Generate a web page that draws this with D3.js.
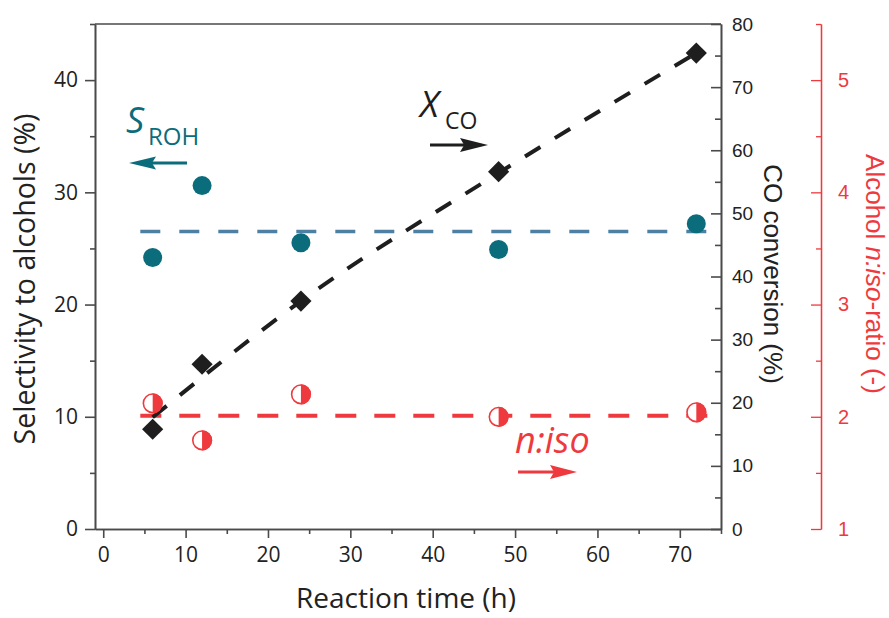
<!DOCTYPE html>
<html>
<head>
<meta charset="utf-8">
<script src="https://cdn.jsdelivr.net/npm/d3@7"></script>
<style>
  html, body { margin: 0; padding: 0; background: #fff; }
  svg { display: block; }
</style>
</head>
<body>
<svg id="chart" width="889" height="618"></svg>
<script>
// Reaction time series (h)
const time = [6, 12, 24, 48, 72];
// Selectivity to alcohols (%), left axis
const selectivity = [24.2, 30.6, 25.5, 24.9, 27.2];
// CO conversion (%), first right axis
const coConversion = [15.8, 26.1, 36.1, 56.6, 75.4];
// Alcohol n:iso ratio (-), second right axis
const nIsoRatio = [2.12, 1.79, 2.20, 2.00, 2.04];

// Guide lines
const selAverage = 26.5;
const ratioAverage = 2.01;
const guideSpan = [4.5, 73.5];
const trendTime = [6, 24, 48, 72];
const trendCO = [17.7, 36.1, 56.4, 75.4];

// Tick values
const xTicks = [0, 10, 20, 30, 40, 50, 60, 70];
const xMinor = [5, 15, 25, 35, 45, 55, 65, 75];
const selTicks = [0, 10, 20, 30, 40];
const selMinor = [5, 15, 25, 35, 45];
const coTicks = [0, 10, 20, 30, 40, 50, 60, 70, 80];
const coMinor = [5, 15, 25, 35, 45, 55, 65, 75];
const ratioTicks = [1, 2, 3, 4, 5];
const ratioMinor = [1.5, 2.5, 3.5, 4.5, 5.5];

const TEAL = "#0b6c7b", TEAL_LINE = "#4d80a2", RED = "#ee3a3e", BLACK = "#1e1e1e", AXIS = "#4a4a4a";

const svg = d3.select("#chart");
const plotLeft = 95, plotRight = 721, plotTop = 24, plotBottom = 529, ratioX = 821;

const x = d3.scaleLinear([-1, 75], [plotLeft, plotRight]);
const ySel = d3.scaleLinear([0, 45], [plotBottom, plotTop]);
const yCO = d3.scaleLinear([0, 80], [plotBottom, plotTop]);
const yRatio = d3.scaleLinear([1, 5.5], [plotBottom, plotTop]);
const intFmt = d3.format("d");

function styleAxis(g, color, textColor, font, size, width) {
  g.select(".domain").attr("stroke", color).attr("stroke-width", width);
  g.selectAll(".tick line").attr("stroke", color).attr("stroke-width", width);
  g.selectAll(".tick text").attr("font-family", font).attr("font-size", size).attr("fill", textColor);
}

// bottom axis
svg.append("g").attr("transform", `translate(0,${plotBottom})`)
  .call(d3.axisBottom(x).tickValues(xMinor).tickSize(5).tickSizeOuter(0).tickFormat(""))
  .call(g => styleAxis(g, AXIS, "#222", "Open Sans", 21, 1.6));
svg.append("g").attr("transform", `translate(0,${plotBottom})`)
  .call(d3.axisBottom(x).tickValues(xTicks).tickSize(9).tickPadding(9).tickSizeOuter(0).tickFormat(intFmt))
  .call(g => styleAxis(g, AXIS, "#222", "Open Sans", 21, 1.6));

// left axis
svg.append("g").attr("transform", `translate(${plotLeft},0)`)
  .call(d3.axisLeft(ySel).tickValues(selMinor).tickSize(5).tickSizeOuter(0).tickFormat(""))
  .call(g => styleAxis(g, AXIS, "#222", "Open Sans", 21, 1.6));
svg.append("g").attr("transform", `translate(${plotLeft},0)`)
  .call(d3.axisLeft(ySel).tickValues(selTicks).tickSize(10).tickPadding(7).tickSizeOuter(0).tickFormat(intFmt))
  .call(g => styleAxis(g, AXIS, "#222", "Open Sans", 21, 1.6));

// top frame
svg.append("line").attr("x1", plotLeft).attr("x2", plotRight).attr("y1", plotTop).attr("y2", plotTop)
  .attr("stroke", AXIS).attr("stroke-width", 1.6);

// CO conversion axis (ticks inward)
svg.append("g").attr("transform", `translate(${plotRight},0)`)
  .call(d3.axisRight(yCO).tickValues(coMinor).tickSize(-6).tickSizeOuter(0).tickFormat(""))
  .call(g => styleAxis(g, AXIS, "#222", "Liberation Sans", 19, 1.6));
svg.append("g").attr("transform", `translate(${plotRight},0)`)
  .call(d3.axisRight(yCO).tickValues(coTicks).tickSize(-10).tickPadding(11).tickSizeOuter(0).tickFormat(intFmt))
  .call(g => styleAxis(g, AXIS, "#222", "Liberation Sans", 19, 1.6));

// n:iso ratio axis
svg.append("g").attr("transform", `translate(${ratioX},0)`)
  .call(d3.axisRight(yRatio).tickValues(ratioMinor).tickSize(-5).tickSizeOuter(0).tickFormat(""))
  .call(g => styleAxis(g, RED, RED, "Liberation Sans", 20, 1.3));
svg.append("g").attr("transform", `translate(${ratioX},0)`)
  .call(d3.axisRight(yRatio).tickValues(ratioTicks).tickSize(-10).tickPadding(17).tickSizeOuter(0).tickFormat(intFmt))
  .call(g => styleAxis(g, RED, RED, "Liberation Sans", 20, 1.3));

// axis titles
svg.append("text").attr("transform", `translate(35,279) rotate(-90)`)
  .attr("text-anchor", "middle").attr("font-family", "Open Sans").attr("font-size", 28.5).attr("fill", "#222")
  .text("Selectivity to alcohols (%)");
svg.append("text").attr("x", 406).attr("y", 608)
  .attr("text-anchor", "middle").attr("font-family", "Open Sans").attr("font-size", 28).attr("fill", "#222")
  .text("Reaction time (h)");
svg.append("text").attr("transform", `translate(764,274) rotate(90)`)
  .attr("text-anchor", "middle").attr("font-family", "Liberation Sans").attr("font-size", 26).attr("fill", "#222")
  .text("CO conversion (%)");
const ratioTitle = svg.append("text").attr("transform", `translate(866,274) rotate(90)`)
  .attr("text-anchor", "middle").attr("font-family", "Liberation Sans").attr("font-size", 26).attr("fill", RED);
ratioTitle.append("tspan").text("Alcohol ");
ratioTitle.append("tspan").attr("font-style", "italic").text("n:iso");
ratioTitle.append("tspan").text("-ratio (-)");

// guide lines
svg.append("line").attr("x1", x(guideSpan[0])).attr("x2", x(guideSpan[1]))
  .attr("y1", ySel(selAverage)).attr("y2", ySel(selAverage))
  .attr("stroke", TEAL_LINE).attr("stroke-width", 3.5).attr("stroke-dasharray", "20 19");
svg.append("line").attr("x1", x(guideSpan[0])).attr("x2", x(guideSpan[1]))
  .attr("y1", yRatio(ratioAverage)).attr("y2", yRatio(ratioAverage))
  .attr("stroke", RED).attr("stroke-width", 4).attr("stroke-dasharray", "21 18");
svg.append("path")
  .attr("d", d3.line().x(d => x(d[0])).y(d => yCO(d[1])).curve(d3.curveMonotoneX)(trendTime.map((t, i) => [t, trendCO[i]])))
  .attr("fill", "none").attr("stroke", BLACK).attr("stroke-width", 4).attr("stroke-dasharray", "18 17");

// selectivity points
svg.append("g").selectAll("circle").data(time).join("circle")
  .attr("cx", d => x(d)).attr("cy", (d, i) => ySel(selectivity[i])).attr("r", 9.5).attr("fill", TEAL);

// CO conversion diamonds
svg.append("g").selectAll("path").data(time).join("path")
  .attr("transform", (d, i) => `translate(${x(d)},${yCO(coConversion[i])}) rotate(45)`)
  .attr("d", d3.symbol(d3.symbolSquare, 225)).attr("fill", BLACK);

// n:iso half-filled circles
const half = svg.append("g").selectAll("g").data(time).join("g")
  .attr("transform", (d, i) => `translate(${x(d)},${yRatio(nIsoRatio[i])})`);
half.append("circle").attr("r", 9.3).attr("fill", "#fff").attr("stroke", RED).attr("stroke-width", 1.6);
half.append("path").attr("d", d3.arc()({ innerRadius: 0, outerRadius: 10.1, startAngle: 0, endAngle: Math.PI })).attr("fill", RED);

// annotations
function arrow(x1, x2, y, color, headLen, headHalf) {
  const dir = Math.sign(x2 - x1);
  svg.append("line").attr("x1", x1).attr("x2", x2 - dir * headLen * 0.8).attr("y1", y).attr("y2", y)
    .attr("stroke", color).attr("stroke-width", 3.2);
  svg.append("path").attr("d", `M${x2},${y} L${x2 - dir * headLen},${y - headHalf} L${x2 - dir * headLen * 0.85},${y} L${x2 - dir * headLen},${y + headHalf} Z`)
    .attr("fill", color);
}

const sLabel = svg.append("text").attr("font-family", "Open Sans").attr("fill", TEAL);
sLabel.append("tspan").attr("x", 126).attr("y", 133).attr("font-size", 36).attr("font-style", "italic").text("S");
sLabel.append("tspan").attr("x", 148).attr("y", 145).attr("font-size", 24).text("ROH");
arrow(187, 129, 163, TEAL, 27, 6.5);

const xLabel = svg.append("text").attr("font-family", "Open Sans").attr("fill", BLACK);
xLabel.append("tspan").attr("x", 420).attr("y", 117).attr("font-size", 36).attr("font-style", "italic").text("X");
xLabel.append("tspan").attr("x", 445).attr("y", 129).attr("font-size", 23).text("CO");
arrow(430, 488, 145, BLACK, 28, 7);

svg.append("text").attr("x", 515).attr("y", 453).attr("font-family", "Open Sans").attr("font-size", 36)
  .attr("font-style", "italic").attr("fill", RED).text("n:iso");
arrow(518, 577, 472, RED, 27, 7);
</script>
</body>
</html>
